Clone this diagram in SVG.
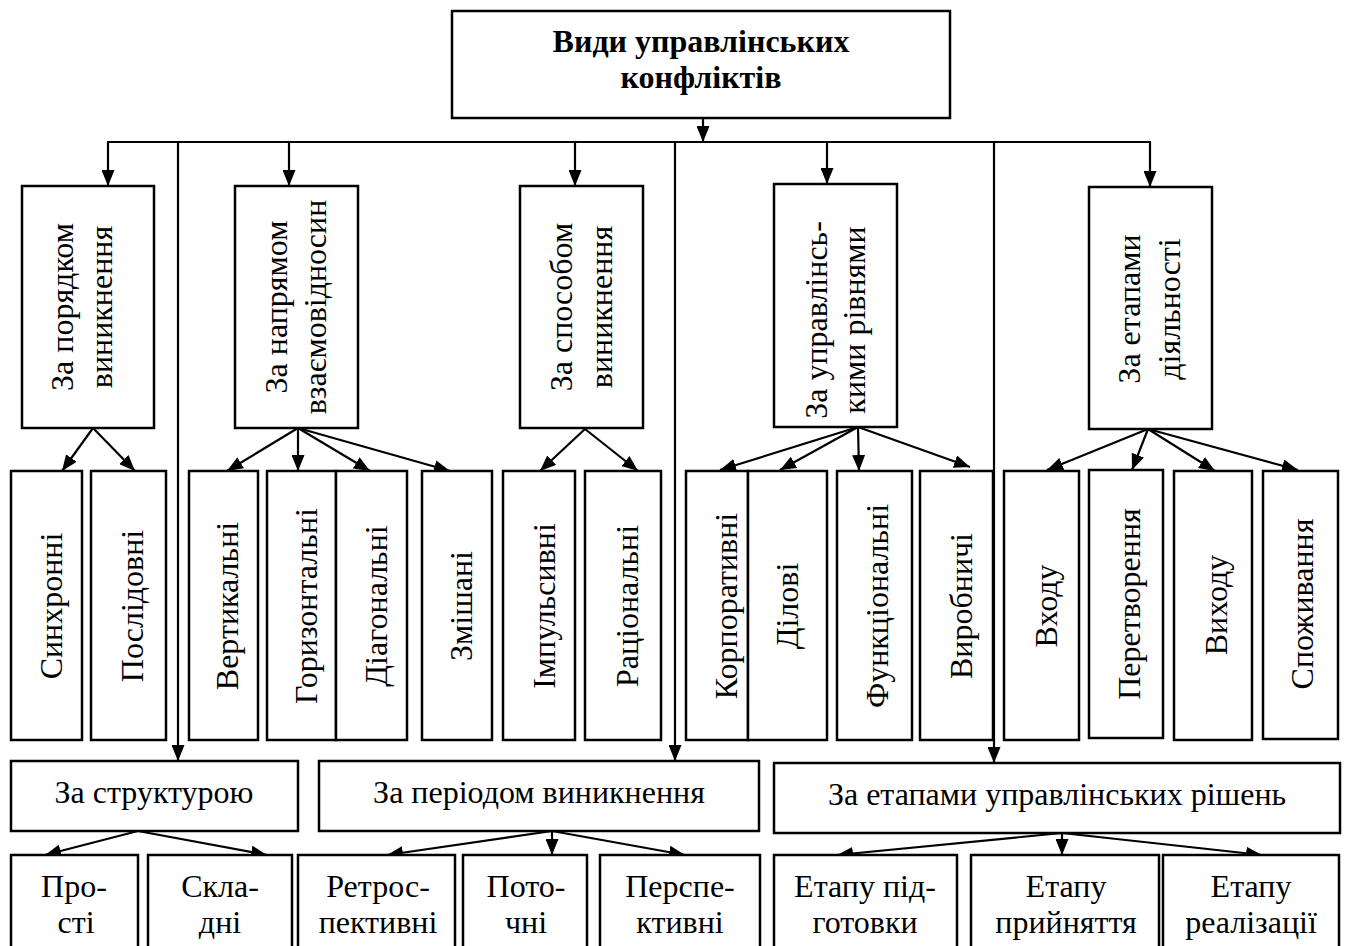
<svg xmlns="http://www.w3.org/2000/svg" width="1346" height="946" viewBox="0 0 1346 946">
<style>
.box{fill:#fff;stroke:#000;stroke-width:2.5}
.t{font-family:"Liberation Serif","Times New Roman",serif;font-size:32px;fill:#000;text-anchor:middle}
.b{font-weight:bold}
.c{stroke:#000;stroke-width:2.2;fill:none}
.a{stroke:#000;stroke-width:2.2;fill:none;marker-end:url(#ah)}
</style>
<defs>
<marker id="ah" markerUnits="userSpaceOnUse" viewBox="0 0 16 13" markerWidth="16" markerHeight="13" refX="16" refY="6.5" orient="auto">
<path d="M0,0 L16,6.5 L0,13 z" fill="#000"/>
</marker>
</defs>
<rect width="1346" height="946" fill="#fff"/>
<g id="connectors">
<line class="a" x1="703" y1="118" x2="703" y2="142"/>
<line class="c" x1="107" y1="142" x2="1151" y2="142"/>
<line class="a" x1="108" y1="142" x2="108" y2="186"/>
<line class="a" x1="289" y1="142" x2="289" y2="186"/>
<line class="a" x1="575" y1="142" x2="575" y2="186"/>
<line class="a" x1="827" y1="142" x2="827" y2="184"/>
<line class="a" x1="1150" y1="142" x2="1150" y2="187"/>
<line class="a" x1="178" y1="142" x2="178" y2="761"/>
<line class="a" x1="675" y1="142" x2="675" y2="761"/>
<line class="a" x1="994" y1="142" x2="994" y2="763"/>
<line class="a" x1="93" y1="428" x2="62" y2="471"/>
<line class="a" x1="93" y1="428" x2="135" y2="471"/>
<line class="a" x1="298" y1="428" x2="227" y2="471"/>
<line class="a" x1="298" y1="428" x2="298" y2="471"/>
<line class="a" x1="298" y1="428" x2="370" y2="471"/>
<line class="a" x1="298" y1="428" x2="450" y2="471"/>
<line class="a" x1="585" y1="429" x2="540" y2="471"/>
<line class="a" x1="585" y1="429" x2="638" y2="471"/>
<line class="a" x1="858" y1="427" x2="720" y2="470"/>
<line class="a" x1="858" y1="427" x2="780" y2="470"/>
<line class="a" x1="858" y1="427" x2="859" y2="471"/>
<line class="a" x1="858" y1="427" x2="970" y2="467"/>
<line class="a" x1="1148" y1="429" x2="1047" y2="470"/>
<line class="a" x1="1148" y1="429" x2="1132" y2="470"/>
<line class="a" x1="1148" y1="429" x2="1215" y2="471"/>
<line class="a" x1="1148" y1="429" x2="1298" y2="470"/>
<line class="a" x1="138" y1="831" x2="45" y2="855"/>
<line class="a" x1="138" y1="831" x2="267" y2="855"/>
<line class="a" x1="552" y1="831" x2="387" y2="855"/>
<line class="a" x1="552" y1="831" x2="552" y2="855"/>
<line class="a" x1="552" y1="831" x2="685" y2="855"/>
<line class="a" x1="1062" y1="833" x2="837" y2="855"/>
<line class="a" x1="1062" y1="833" x2="1062" y2="855"/>
<line class="a" x1="1062" y1="833" x2="1262" y2="855"/>
</g>
<g id="root">
<rect class="box" x="452" y="11" width="498" height="107"/>
<text class="t b" x="701" y="52">Види управлінських</text>
<text class="t b" x="701" y="88">конфліктів</text>
</g>
<g id="n-poriadok">
<rect class="box" x="22" y="186" width="132" height="242"/>
<text class="t" transform="translate(73,307) rotate(-90)">За порядком</text>
<text class="t" transform="translate(112,307) rotate(-90)">виникнення</text>
</g>
<g id="n-napriam">
<rect class="box" x="235" y="186" width="123" height="242"/>
<text class="t" transform="translate(287,307) rotate(-90)">За напрямом</text>
<text class="t" transform="translate(326,307) rotate(-90)">взаємовідносин</text>
</g>
<g id="n-sposib">
<rect class="box" x="520" y="186" width="123" height="242"/>
<text class="t" transform="translate(572,307) rotate(-90)">За способом</text>
<text class="t" transform="translate(612,307) rotate(-90)">виникнення</text>
</g>
<g id="n-rivni">
<rect class="box" x="774" y="184" width="123" height="243"/>
<text class="t" transform="translate(827,320) rotate(-90)">За управлінсь-</text>
<text class="t" transform="translate(865,320) rotate(-90)">кими рівнями</text>
</g>
<g id="n-etapy">
<rect class="box" x="1089" y="187" width="123" height="242"/>
<text class="t" transform="translate(1140,309) rotate(-90)">За етапами</text>
<text class="t" transform="translate(1180,309) rotate(-90)">діяльності</text>
</g>
<g id="n-synkhronni"><rect class="box" x="11" y="471" width="71" height="269"/><text class="t" transform="translate(62,606) rotate(-90)">Синхронні</text></g>
<g id="n-poslidovni"><rect class="box" x="91" y="471" width="75" height="269"/><text class="t" transform="translate(143,606) rotate(-90)">Послідовні</text></g>
<g id="n-vertykalni"><rect class="box" x="189" y="471" width="69" height="269"/><text class="t" transform="translate(238,606) rotate(-90)">Вертикальні</text></g>
<g id="n-horyzontalni"><rect class="box" x="267" y="471" width="69" height="269"/><text class="t" transform="translate(317,606) rotate(-90)">Горизонтальні</text></g>
<g id="n-diahonalni"><rect class="box" x="336" y="471" width="71" height="269"/><text class="t" transform="translate(387,606) rotate(-90)">Діагональні</text></g>
<g id="n-zmishani"><rect class="box" x="422" y="471" width="70" height="269"/><text class="t" transform="translate(472,606) rotate(-90)">Змішані</text></g>
<g id="n-impulsyvni"><rect class="box" x="503" y="471" width="72" height="269"/><text class="t" transform="translate(555,606) rotate(-90)">Імпульсивні</text></g>
<g id="n-ratsionalni"><rect class="box" x="585" y="471" width="76" height="269"/><text class="t" transform="translate(638,606) rotate(-90)">Раціональні</text></g>
<g id="n-korporatyvni"><rect class="box" x="686" y="471" width="62" height="269"/><text class="t" transform="translate(737,606) rotate(-90)">Корпоративні</text></g>
<g id="n-dilovi"><rect class="box" x="748" y="471" width="79" height="269"/><text class="t" transform="translate(798,606) rotate(-90)">Ділові</text></g>
<g id="n-funktsionalni"><rect class="box" x="837" y="471" width="75" height="269"/><text class="t" transform="translate(888,606) rotate(-90)">Функціональні</text></g>
<g id="n-vyrobnychi"><rect class="box" x="920" y="471" width="73" height="269"/><text class="t" transform="translate(972,606) rotate(-90)">Виробничі</text></g>
<g id="n-vkhodu"><rect class="box" x="1004" y="471" width="75" height="269"/><text class="t" transform="translate(1057,606) rotate(-90)">Входу</text></g>
<g id="n-peretvorennia"><rect class="box" x="1089" y="470" width="74" height="268"/><text class="t" transform="translate(1140,604) rotate(-90)">Перетворення</text></g>
<g id="n-vykhodu"><rect class="box" x="1174" y="471" width="78" height="269"/><text class="t" transform="translate(1227,605) rotate(-90)">Виходу</text></g>
<g id="n-spozhyvannia"><rect class="box" x="1263" y="471" width="75" height="268"/><text class="t" transform="translate(1313,604) rotate(-90)">Споживання</text></g>
<g id="n-struktura"><rect class="box" x="11" y="761" width="287" height="70"/><text class="t" x="154" y="803">За структурою</text></g>
<g id="n-period"><rect class="box" x="319" y="761" width="440" height="70"/><text class="t" x="539" y="803">За періодом виникнення</text></g>
<g id="n-rishennia"><rect class="box" x="774" y="763" width="566" height="70"/><text class="t" x="1057" y="805">За етапами управлінських рішень</text></g>
<g id="n-prosti"><rect class="box" x="11" y="855" width="127" height="110"/><text class="t" x="74" y="897">Про-</text><text class="t" x="76" y="933">сті</text></g>
<g id="n-skladni"><rect class="box" x="148" y="855" width="144" height="110"/><text class="t" x="220" y="897">Скла-</text><text class="t" x="220" y="933">дні</text></g>
<g id="n-retro"><rect class="box" x="298" y="855" width="157" height="110"/><text class="t" x="378" y="897">Ретрос-</text><text class="t" x="378" y="933">пективні</text></g>
<g id="n-potochni"><rect class="box" x="463" y="855" width="124" height="110"/><text class="t" x="526" y="897">Пото-</text><text class="t" x="526" y="933">чні</text></g>
<g id="n-perspektyvni"><rect class="box" x="600" y="855" width="160" height="110"/><text class="t" x="680" y="897">Перспе-</text><text class="t" x="680" y="933">ктивні</text></g>
<g id="n-pidhotovka"><rect class="box" x="774" y="855" width="183" height="110"/><text class="t" x="865" y="897">Етапу під-</text><text class="t" x="865" y="933">готовки</text></g>
<g id="n-pryiniattia"><rect class="box" x="971" y="855" width="188" height="110"/><text class="t" x="1066" y="897">Етапу</text><text class="t" x="1066" y="933">прийняття</text></g>
<g id="n-realizatsiia"><rect class="box" x="1163" y="855" width="176" height="110"/><text class="t" x="1251" y="897">Етапу</text><text class="t" x="1251" y="933">реалізації</text></g>
</svg>
